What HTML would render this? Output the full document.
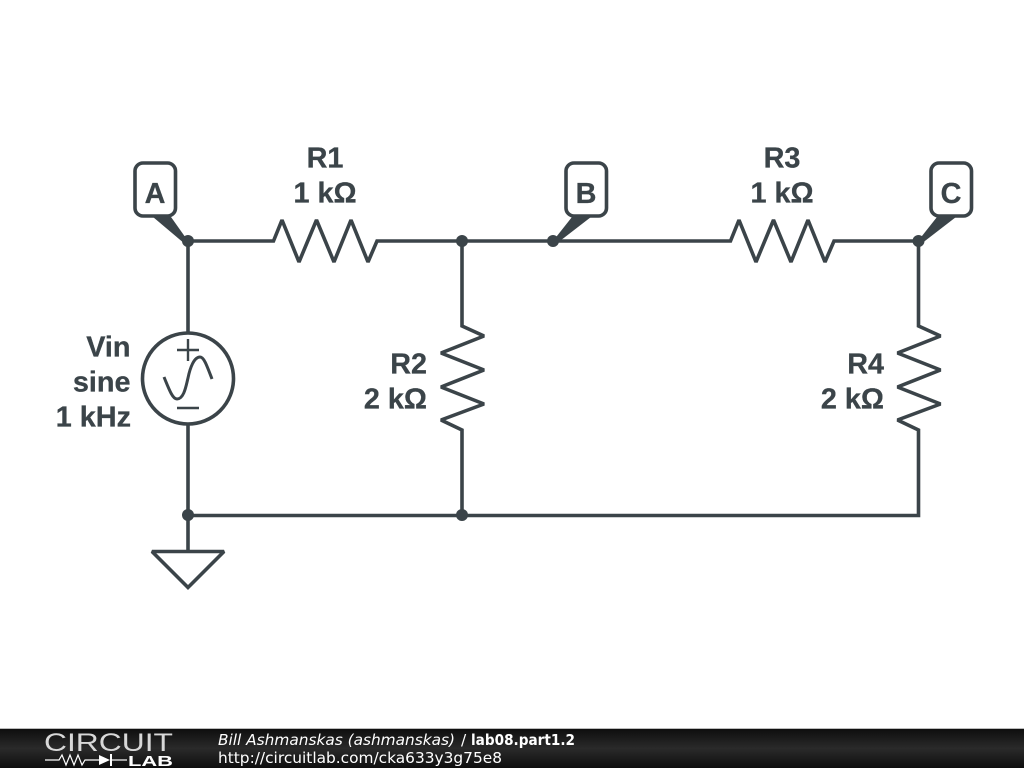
<!DOCTYPE html>
<html>
<head>
<meta charset="utf-8">
<style>
html,body{margin:0;padding:0;background:#fff;width:1024px;height:768px;overflow:hidden}
svg{display:block}
.l{font-family:"Liberation Sans",Arial,sans-serif;font-weight:bold;font-size:28.8px;fill:#3b4449;stroke:#3b4449;stroke-width:0.3}
.f{font-family:"DejaVu Sans",sans-serif;font-size:15.4px;fill:#fff}
</style>
</head>
<body>
<svg width="1024" height="768" viewBox="0 0 1024 768" xmlns="http://www.w3.org/2000/svg">
<defs>
<linearGradient id="g" x1="0" y1="0" x2="0" y2="1">
<stop offset="0" stop-color="#0e0e0e"/>
<stop offset="0.5" stop-color="#2a2a2a"/>
<stop offset="1" stop-color="#0e0e0e"/>
</linearGradient>
</defs>
<rect width="1024" height="768" fill="#fff"/>
<g fill="none" stroke="#3b4449" stroke-width="3.600" stroke-linejoin="miter" stroke-miterlimit="2.500">
<polyline points="188,241 273.500,241 282,220 299,262 316.500,220 334,262 351,220 368,262 377,241 462,241 730.500,241 739,220 756,262 773.500,220 791,262 808,220 825,262 834,241 918.500,241 918.500,326 940.500,336 897.500,353 940.500,370 897.500,387 940.500,404 897.500,420 918.500,430 918.500,515.500 188,515.500"/>
<polyline points="462,241 462,326 484,336 441,353 484,370 441,387 484,404 441,420 462,430 462,515"/>
<line x1="188" y1="241" x2="188" y2="332"/>
<line x1="188" y1="425" x2="188" y2="551"/>
<circle cx="188" cy="378.500" r="45.500"/>
<polygon points="152,551.500 224,551.500 188,587.500"/>
<rect x="135" y="163" width="40.500" height="53" rx="8" ry="8" fill="#fff"/>
<rect x="566" y="163" width="40.500" height="53" rx="8" ry="8" fill="#fff"/>
<rect x="931" y="163" width="40.500" height="53" rx="8" ry="8" fill="#fff"/>
</g>
<g fill="none" stroke="#3b4449" stroke-width="2.400">
<line x1="177" y1="350" x2="199" y2="350"/>
<line x1="188" y1="339" x2="188" y2="361"/>
<line x1="177" y1="408" x2="199" y2="408"/>
<path d="M164,377 C170,392 173,399 177,399 C184,399 186,386 188,378 C190,368 194,357 200,357 C204,357 207,366 212,379" stroke-width="3"/>
</g>
<g fill="#3b4449">
<polygon points="153,217 171,217 188,241 185,244"/>
<polygon points="572,217 591,217 556,244 553,241"/>
<polygon points="937,217 956,217 921,244 918,241"/>
<circle cx="188" cy="241" r="6"/>
<circle cx="462" cy="241" r="6"/>
<circle cx="553" cy="241" r="6"/>
<circle cx="918.500" cy="241" r="6"/>
<circle cx="188" cy="515" r="6"/>
<circle cx="462" cy="515" r="6"/>
</g>
<g class="l">
<text x="155" y="203" text-anchor="middle">A</text>
<text x="586" y="203" text-anchor="middle">B</text>
<text x="951" y="203" text-anchor="middle">C</text>
<text x="325" y="167.500" text-anchor="middle">R1</text>
<text x="325" y="202.500" text-anchor="middle">1 kΩ</text>
<text x="782" y="167.500" text-anchor="middle">R3</text>
<text x="782" y="202.500" text-anchor="middle">1 kΩ</text>
<text x="427" y="373.500" text-anchor="end">R2</text>
<text x="427" y="408.500" text-anchor="end">2 kΩ</text>
<text x="884" y="373.500" text-anchor="end">R4</text>
<text x="884" y="408.500" text-anchor="end">2 kΩ</text>
<text x="130.500" y="356.500" text-anchor="end">Vin</text>
<text x="130.500" y="391.500" text-anchor="end">sine</text>
<text x="131" y="426.500" text-anchor="end">1 kHz</text>
</g>
<rect x="0" y="729" width="1024" height="39" fill="url(#g)"/>
<rect x="0" y="728" width="1024" height="1" fill="#bbb"/>
<text x="44" y="751" font-family="Liberation Sans,sans-serif" font-size="25" fill="#d8d8d8" textLength="129" lengthAdjust="spacingAndGlyphs">CIRCUIT</text>
<polyline points="45,760 59,760 62,755 66,765 70,755 74,765 78,755 82,765 85,760 99,760" fill="none" stroke="#fff" stroke-width="1.200"/>
<polygon points="99,755 99,765 110,760" fill="#fff"/>
<line x1="111" y1="754" x2="111" y2="766" stroke="#fff" stroke-width="2"/>
<line x1="111" y1="760" x2="127" y2="760" stroke="#fff" stroke-width="1.200"/>
<text x="128" y="766" font-family="Liberation Sans,sans-serif" font-weight="bold" font-size="15" fill="#fff" textLength="45" lengthAdjust="spacingAndGlyphs">LAB</text>
<text class="f" x="218" y="745" font-style="italic" textLength="237" lengthAdjust="spacingAndGlyphs">Bill Ashmanskas (ashmanskas)</text>
<text class="f" x="461" y="745">/</text>
<text class="f" x="471" y="745" font-weight="bold" textLength="104" lengthAdjust="spacingAndGlyphs">lab08.part1.2</text>
<text class="f" x="218" y="763" textLength="284" lengthAdjust="spacingAndGlyphs">http://circuitlab.com/cka633y3g75e8</text>
</svg>
</body>
</html>
